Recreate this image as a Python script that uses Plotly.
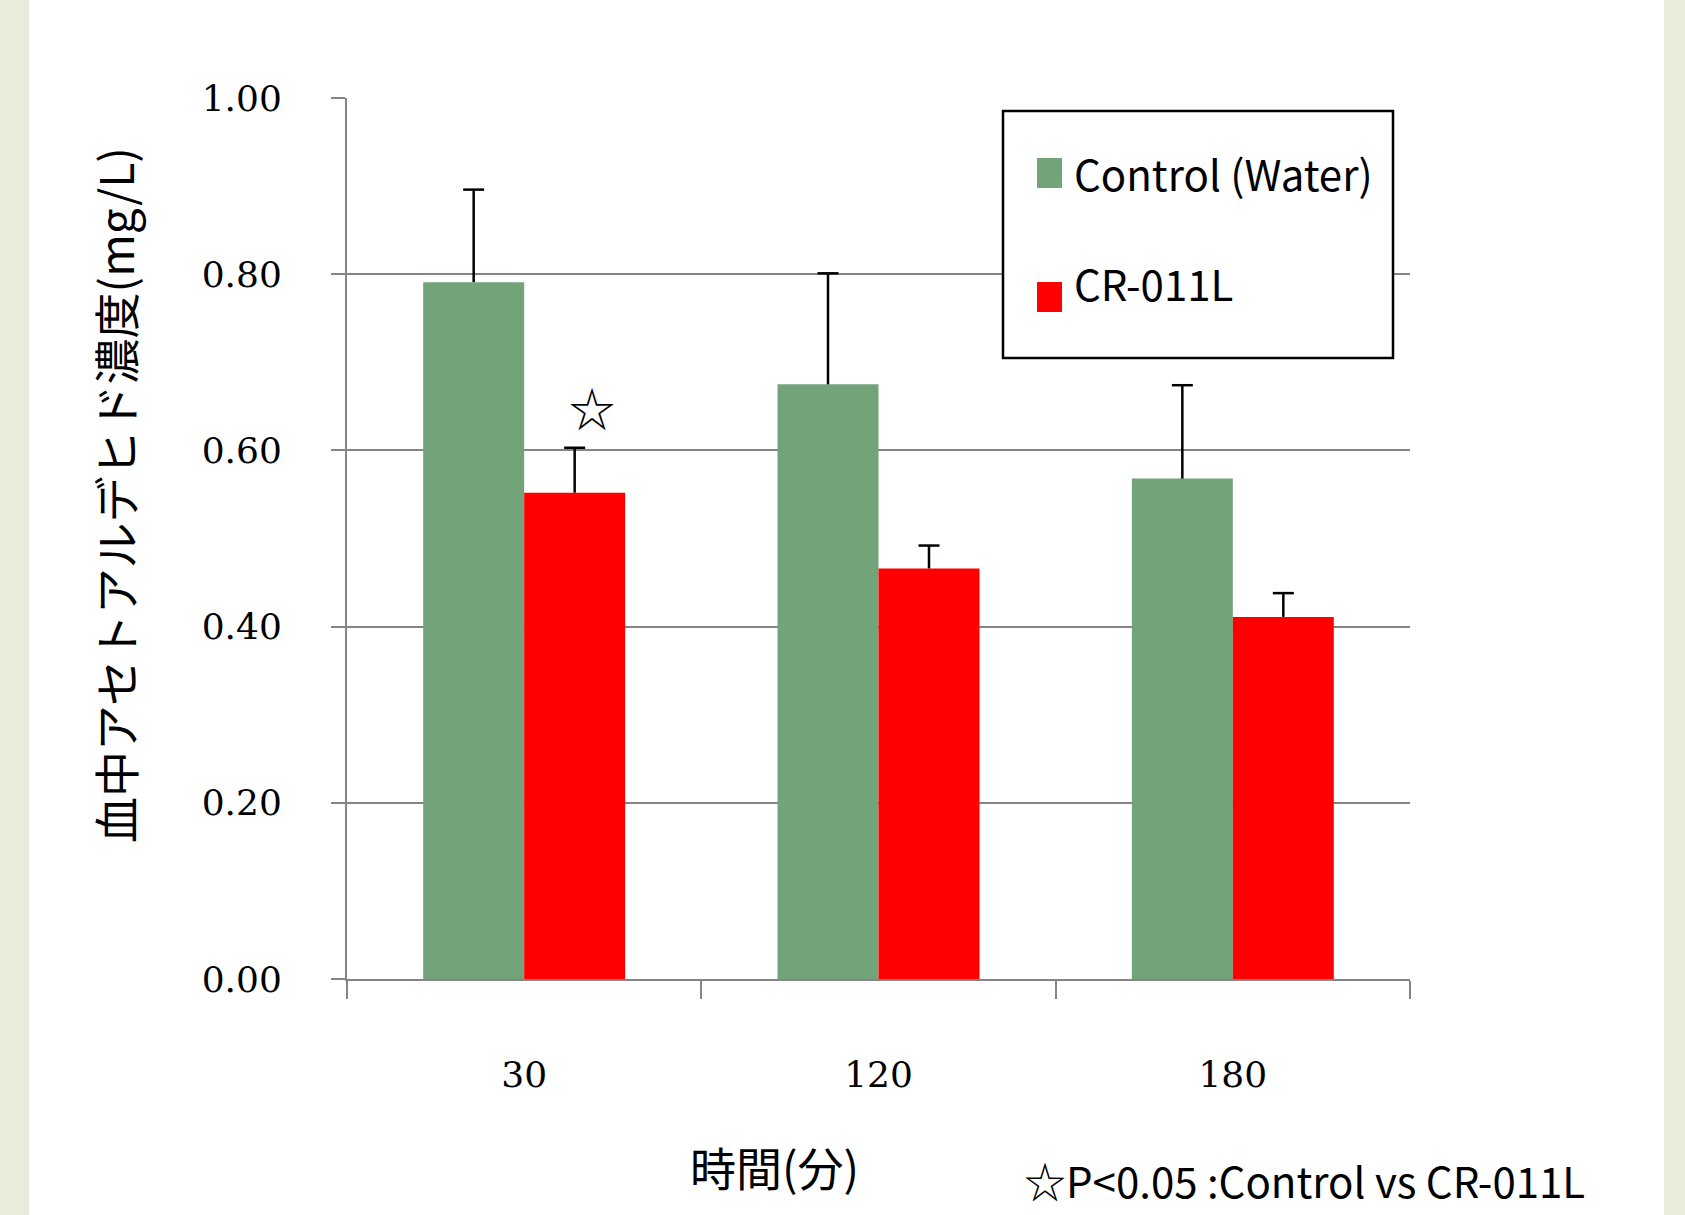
import plotly.graph_objects as go

# Data: blood acetaldehyde concentration (mg/L) over time
times = ["30", "120", "180"]
control_mean = [0.791, 0.675, 0.568]
control_sd = [0.105, 0.126, 0.106]
cr011l_mean = [0.552, 0.466, 0.411]
cr011l_sd = [0.051, 0.026, 0.027]
y_ticks = [0.0, 0.2, 0.4, 0.6, 0.8, 1.0]
y_ticktext = ["0.00", "0.20", "0.40", "0.60", "0.80", "1.00"]
series_names = ["Control (Water)", "CR-011L"]
star_y = 0.65

GREEN = "#72A379"
RED = "#FF0000"
GRID = "#858585"

W, H = 1685, 1215
ML, MR, MT, MB = 347, 275, 98, 236
PX0, PX1 = ML, W - MR
PY0, PY1 = MT, H - MB

BARGAP = 0.43
BAR_W = (1 - BARGAP) / 2
OFFSETS = [-BAR_W / 2, BAR_W / 2]


def px(x):
    return (x - PX0) / (PX1 - PX0)


def py(y):
    return (PY1 - y) / (PY1 - PY0)


fig = go.Figure()
for name, means, color in [(series_names[0], control_mean, GREEN),
                           (series_names[1], cr011l_mean, RED)]:
    fig.add_trace(go.Bar(
        x=times, y=means, name=name,
        marker=dict(color=color, line=dict(width=0)),
        showlegend=False,
    ))

# Upper-only error bars (stem + top cap) on a numeric overlay axis aligned with the categories
for off, means, sds in [(OFFSETS[0], control_mean, control_sd),
                        (OFFSETS[1], cr011l_mean, cr011l_sd)]:
    xs, ys = [], []
    for i, (m, s) in enumerate(zip(means, sds)):
        xs += [i + off, i + off, None]
        ys += [m, m + s, None]
    fig.add_trace(go.Scatter(
        x=xs, y=ys, xaxis="x2", yaxis="y", mode="lines",
        line=dict(color="black", width=2.5), showlegend=False, hoverinfo="skip",
    ))
    fig.add_trace(go.Scatter(
        x=[i + off for i in range(len(means))],
        y=[m + s for m, s in zip(means, sds)],
        xaxis="x2", yaxis="y", mode="markers",
        marker=dict(symbol="line-ew", size=15, line=dict(color="black", width=2.5)),
        showlegend=False, hoverinfo="skip",
    ))

cjk = "Noto Sans CJK JP"
serif = "DejaVu Serif"

shapes = [
    # textured side strips of the slide background
    dict(type="rect", xref="paper", yref="paper", x0=px(0), x1=px(29), y0=py(H), y1=py(0),
         fillcolor="#EBEBDB", line=dict(width=0), layer="below"),
    dict(type="rect", xref="paper", yref="paper", x0=px(1664), x1=px(W), y0=py(H), y1=py(0),
         fillcolor="#EBEBDB", line=dict(width=0), layer="below"),
    # legend frame and swatches
    dict(type="rect", xref="paper", yref="paper", x0=px(1003), x1=px(1393), y0=py(358), y1=py(111),
         fillcolor="white", line=dict(color="black", width=2.5), layer="above"),
    dict(type="rect", xref="paper", yref="paper", x0=px(1037), x1=px(1062), y0=py(188), y1=py(158),
         fillcolor=GREEN, line=dict(width=0), layer="above"),
    dict(type="rect", xref="paper", yref="paper", x0=px(1037), x1=px(1062), y0=py(312), y1=py(282),
         fillcolor=RED, line=dict(width=0), layer="above"),
]

annotations = [
    dict(text=series_names[0], xref="paper", yref="paper", x=px(1072), y=py(172),
         xanchor="left", yanchor="middle", showarrow=False,
         font=dict(family=cjk, size=42, color="black")),
    dict(text=series_names[1], xref="paper", yref="paper", x=px(1072), y=py(282),
         xanchor="left", yanchor="middle", showarrow=False,
         font=dict(family=cjk, size=42, color="black")),
    # significance marker beside the CR-011L bar at 30 min
    dict(text="☆", xref="x2", yref="y", x=OFFSETS[1] + 0.05, y=star_y,
         xanchor="center", yanchor="middle", showarrow=False,
         font=dict(family=cjk, size=46, color="black")),
    # axis titles
    dict(text="血中アセトアルデヒド濃度(mg/L)", xref="paper", yref="paper", x=px(114), y=py(495),
         xanchor="center", yanchor="middle", textangle=-90, showarrow=False,
         font=dict(family=cjk, size=46, color="black")),
    dict(text="時間(分)", xref="paper", yref="paper", x=px(774), y=py(1166),
         xanchor="center", yanchor="middle", showarrow=False,
         font=dict(family=cjk, size=46, color="black")),
    dict(text="☆P<0.05 :Control vs CR-011L", xref="paper", yref="paper", x=px(1022), y=py(1179),
         xanchor="left", yanchor="middle", showarrow=False,
         font=dict(family=cjk, size=42, color="black")),
]

fig.update_layout(
    width=W, height=H,
    margin=dict(l=ML, r=MR, t=MT, b=MB, pad=0),
    paper_bgcolor="white", plot_bgcolor="white",
    barmode="group", bargap=BARGAP, bargroupgap=0,
    showlegend=False,
    shapes=shapes, annotations=annotations,
    xaxis=dict(
        type="category", tickson="boundaries", ticks="outside", ticklen=18,
        tickwidth=2, tickcolor=GRID, showline=True, linecolor=GRID, linewidth=2,
        showgrid=False, zeroline=False, ticklabelstandoff=63,
        tickfont=dict(family=serif, size=36, color="black"),
    ),
    xaxis2=dict(
        overlaying="x", range=[-0.5, len(times) - 0.5], visible=False,
    ),
    yaxis=dict(
        range=[0, 1], tickvals=y_ticks, ticktext=y_ticktext,
        ticks="outside", ticklen=14, tickwidth=2, tickcolor=GRID,
        showline=True, linecolor=GRID, linewidth=2,
        showgrid=True, gridcolor=GRID, gridwidth=2, zeroline=False,
        ticklabelstandoff=42,
        tickfont=dict(family=serif, size=36, color="black"),
    ),
)

fig.write_html("out.html")
